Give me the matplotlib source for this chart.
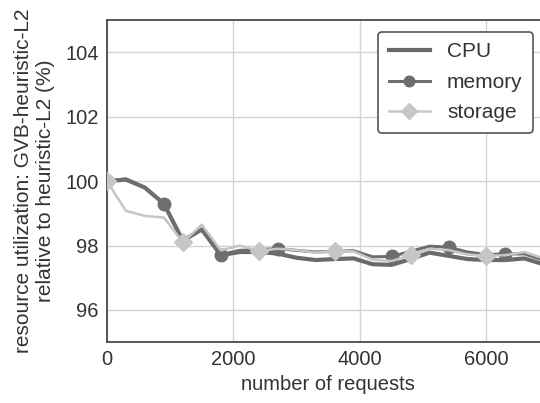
import numpy as np
import matplotlib.pyplot as plt

plt.rcParams['font.family'] = ['Liberation Sans', 'DejaVu Sans']

requests = np.arange(0, 7200, 300)

cpu = [100.0, 100.05, 99.8, 99.3, 98.15, 98.5, 97.7, 97.8, 97.8, 97.75,
       97.62, 97.55, 97.58, 97.6, 97.42, 97.4, 97.58, 97.78, 97.68, 97.58,
       97.55, 97.55, 97.6, 97.42]
memory = [100.0, 100.07, 99.8, 99.3, 98.15, 98.5, 97.72, 97.85, 97.88, 97.9,
          97.85, 97.8, 97.82, 97.84, 97.65, 97.66, 97.82, 97.98, 97.95, 97.8,
          97.72, 97.74, 97.74, 97.55]
storage = [100.0, 99.08, 98.92, 98.87, 98.1, 98.65, 97.85, 98.0, 97.84, 97.9,
           97.86, 97.78, 97.83, 97.82, 97.56, 97.52, 97.7, 97.9, 97.86, 97.72,
           97.68, 97.7, 97.8, 97.6]

fig = plt.figure(figsize=(5.4, 4.03), dpi=100)
ax = fig.add_axes([0.198, 0.151, 0.82, 0.799])

ax.plot(requests, cpu, color='#6a6a6a', lw=3.0, label='CPU', zorder=3)
ax.plot(requests, memory, color='#6e6e6e', lw=2.2, marker='o', markersize=9,
        markevery=3, label='memory', zorder=4)
ax.plot(requests, storage, color='#c6c6c6', lw=1.8, marker='D', markersize=9,
        markevery=4, label='storage', zorder=5)

ax.set_xlim(0, 7000)
ax.set_ylim(95, 105)
ax.set_xticks([0, 2000, 4000, 6000])
ax.set_yticks([96, 98, 100, 102, 104])
ax.grid(True, color='#d4d4d4', lw=1.0)
ax.set_axisbelow(True)
for s in ax.spines.values():
    s.set_color('#4a4a4a')
    s.set_linewidth(1.3)
ax.tick_params(axis='both', length=0, labelsize=14.5, colors='#333333', pad=6)

ax.set_xlabel('number of requests', fontsize=14.5, color='#333333', labelpad=4)
ax.set_ylabel('resource utilization: GVB-heuristic-L2\nrelative to heuristic-L2 (%)',
              fontsize=15, color='#333333', labelpad=7)

leg = ax.legend(loc='upper right', bbox_to_anchor=(533 / 540, 1 - 32 / 403),
                bbox_transform=fig.transFigure, borderaxespad=0, fontsize=15,
                handlelength=2.0, markerscale=0.85, labelspacing=0.55,
                borderpad=0.5, framealpha=1, fancybox=True)
leg.get_frame().set_edgecolor('#555555')
leg.get_frame().set_linewidth(1.2)
for t in leg.get_texts():
    t.set_color('#333333')

fig.savefig('out.png', dpi=100)
